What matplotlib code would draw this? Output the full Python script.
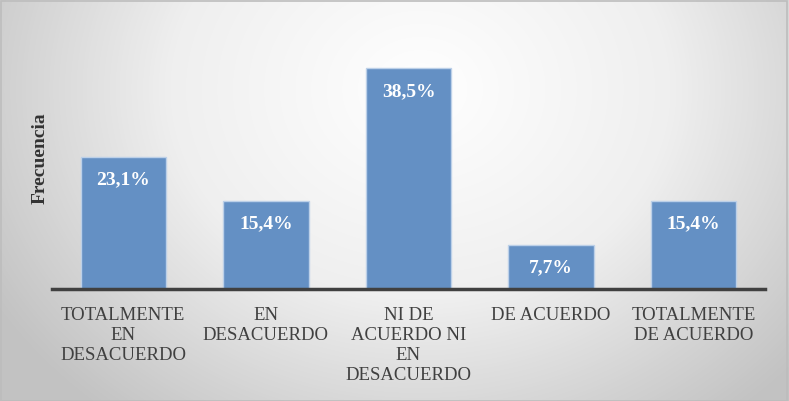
import numpy as np
import matplotlib
matplotlib.use("Agg")
from matplotlib import pyplot as plt
from matplotlib.colors import LinearSegmentedColormap

categorias = ["TOTALMENTE\nEN\nDESACUERDO", "EN\nDESACUERDO",
              "NI DE\nACUERDO NI\nEN\nDESACUERDO", "DE ACUERDO",
              "TOTALMENTE\nDE ACUERDO"]
porcentajes = [23.1, 15.4, 38.5, 7.7, 15.4]
etiquetas = ["23,1%", "15,4%", "38,5%", "7,7%", "15,4%"]

plt.rcParams['font.family'] = ['Liberation Serif', 'DejaVu Serif']

W, H = 789, 402
fig = plt.figure(figsize=(W / 100, H / 100), dpi=100)

# radial gradient background
bg = fig.add_axes([0, 0, 1, 1], zorder=-10)
yy, xx = np.mgrid[0:H, 0:W]
d = np.sqrt(((xx - 420) / 500.0) ** 2 + ((yy - 90) / 420.0) ** 2)
d = np.clip(d, 0, 1)
cmap = LinearSegmentedColormap.from_list("bg", ["#ffffff", "#efefef", "#c2c2c2"])
bg.imshow(d, cmap=cmap, vmin=0, vmax=1, aspect='auto', interpolation='bilinear')
bg.axis('off')
fig.patches.append(plt.Rectangle((0.5 / W, 0.5 / H), 1 - 2.5 / W, 1 - 2.5 / H,
                                 transform=fig.transFigure, fill=False,
                                 edgecolor='#bdbdbd', linewidth=1.2, zorder=-5))

# main axes: baseline at y=290px, 0..45 units
ax = fig.add_axes([52 / W, (H - 290) / H, 713 / W, (290 - 32) / H])
ax.patch.set_alpha(0)
x = np.arange(len(categorias))
bars = ax.bar(x, porcentajes, width=0.6, color='#6490c4', edgecolor='#bcd0e8',
              linewidth=1, zorder=2)
for b, t in zip(bars, etiquetas):
    ax.annotate(t, (b.get_x() + b.get_width() / 2, b.get_height()),
                xytext=(0, -16), textcoords='offset points', ha='center', va='center',
                color='white', fontsize=14, fontweight='bold', zorder=3)

ax.set_xlim(-0.5, 4.5)
ax.set_ylim(0, 45)
ax.set_xticks(x)
ax.set_xticklabels(categorias, fontsize=13.5, color='#404040', linespacing=1.25,
                   multialignment='center')
ax.tick_params(axis='x', length=0, pad=12)
ax.set_yticks([])
for s in ['top', 'right', 'left']:
    ax.spines[s].set_visible(False)
ax.spines['bottom'].set_color('#404040')
ax.spines['bottom'].set_linewidth(2.5)
ax.spines['bottom'].set_zorder(4)

fig.text(40 / W, 1 - 158 / H, "Frecuencia", rotation=90, ha='center', va='center',
         fontsize=14, fontweight='bold', color='#333333')

fig.savefig("out.png", dpi=100)
